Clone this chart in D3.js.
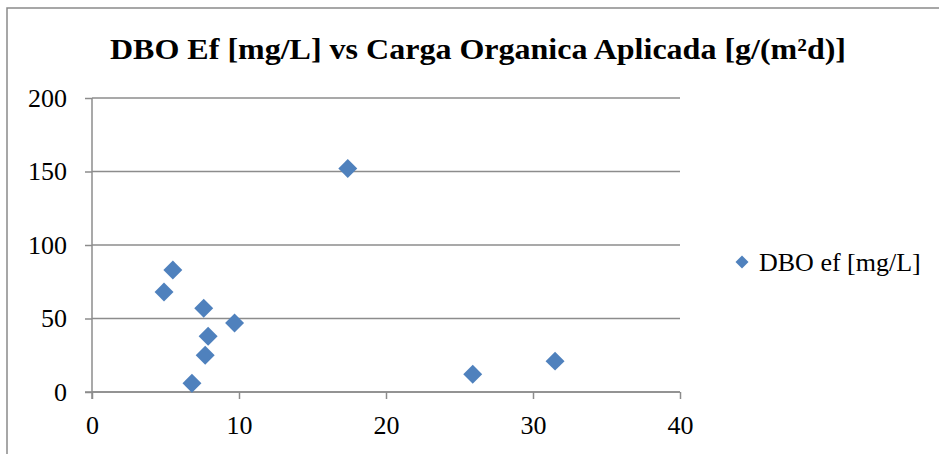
<head>
  <meta charset="UTF-8">
  <title>DBO Ef vs Carga Organica Aplicada</title>
  <script src="https://d3js.org/d3.v7.min.js"></script>
  <style>
    body { margin: 0; background: #fff; }
    text { font-family: "Liberation Serif", "Times New Roman", serif; fill: #000; }
  </style>
</head>
<body>
  <div id="chart"></div>
  <script>

    // Data
    const cargaOrganica = [17.4, 5.5, 4.9, 7.6, 9.7, 7.9, 7.7, 6.8, 25.9, 31.5];
    const dboEf        = [152, 83, 68, 57, 47, 38, 25, 6, 12, 21];
    const xTicks = [0, 10, 20, 30, 40];
    const yTicks = [0, 50, 100, 150, 200];
    const titleText = "DBO Ef [mg/L] vs Carga Organica Aplicada [g/(m²d)]";
    const legendLabel = "DBO ef [mg/L]";

    const W = 939, H = 454;
    const margin = {top: 98, right: 259, bottom: 62, left: 92};
    const width = W - margin.left - margin.right,
          height = H - margin.top - margin.bottom;

    const svg = d3.select("#chart")
      .append("svg")
      .attr("width", W)
      .attr("height", H);

    // outer frame (only left and top visible)
    svg.append("path")
      .attr("d", `M7,${H} L7,8 L${W},8`)
      .attr("fill", "none")
      .attr("stroke", "#8a8a8a")
      .attr("stroke-width", 1.5);

    const g = svg.append("g")
      .attr("transform", `translate(${margin.left},${margin.top})`);

    const x = d3.scaleLinear().domain([0, 40]).range([0, width]);
    const y = d3.scaleLinear().domain([0, 200]).range([height, 0]);

    // horizontal gridlines
    g.selectAll(".grid")
      .data(yTicks)
      .join("line")
      .attr("x1", 0).attr("x2", width)
      .attr("y1", d => y(d)).attr("y2", d => y(d))
      .attr("stroke", "#8c8c8c")
      .attr("stroke-width", 1.5);

    // Y axis
    const yAxis = g.append("g")
      .call(d3.axisLeft(y).tickValues(yTicks).tickSize(7).tickPadding(18));
    yAxis.select(".domain").remove();
    yAxis.selectAll(".tick line").attr("stroke", "#8c8c8c").attr("stroke-width", 1.5);
    yAxis.append("line")
      .attr("x1", 0).attr("x2", 0)
      .attr("y1", 0).attr("y2", height + 7)
      .attr("stroke", "#8c8c8c").attr("stroke-width", 1.5);
    yAxis.selectAll(".tick text")
      .attr("font-size", 26).attr("font-family", "Liberation Serif").attr("fill", "#000");

    // X axis
    const xAxis = g.append("g")
      .attr("transform", `translate(0,${height})`)
      .call(d3.axisBottom(x).tickValues(xTicks).tickSize(7).tickPadding(17));
    xAxis.select(".domain").remove();
    xAxis.selectAll(".tick line").attr("stroke", "#8c8c8c").attr("stroke-width", 1.5);
    xAxis.append("line")
      .attr("x1", -7).attr("x2", width)
      .attr("y1", 0).attr("y2", 0)
      .attr("stroke", "#8c8c8c").attr("stroke-width", 1.5);
    xAxis.selectAll(".tick text")
      .attr("font-size", 26).attr("font-family", "Liberation Serif").attr("fill", "#000");

    // points
    const diamond = d3.symbol().type(d3.symbolSquare).size(180);
    g.selectAll(".pt")
      .data(cargaOrganica.map((c, i) => ({x: c, y: dboEf[i]})))
      .join("path")
      .attr("d", diamond)
      .attr("transform", d => `translate(${x(d.x)},${y(d.y)}) rotate(45)`)
      .attr("fill", "#4F81BD");

    // title
    svg.append("text")
      .attr("x", 478).attr("y", 59)
      .attr("text-anchor", "middle")
      .attr("font-size", 30)
      .attr("font-weight", "bold")
      .attr("textLength", 736)
      .attr("lengthAdjust", "spacingAndGlyphs")
      .text(titleText);

    // legend
    const lg = svg.append("g").attr("transform", "translate(742,262)");
    lg.append("path")
      .attr("d", d3.symbol().type(d3.symbolSquare).size(85))
      .attr("transform", "rotate(45)")
      .attr("fill", "#4F81BD");
    lg.append("text")
      .attr("x", 17).attr("y", 9)
      .attr("font-size", 26)
      .text(legendLabel);

  </script>
</body>
